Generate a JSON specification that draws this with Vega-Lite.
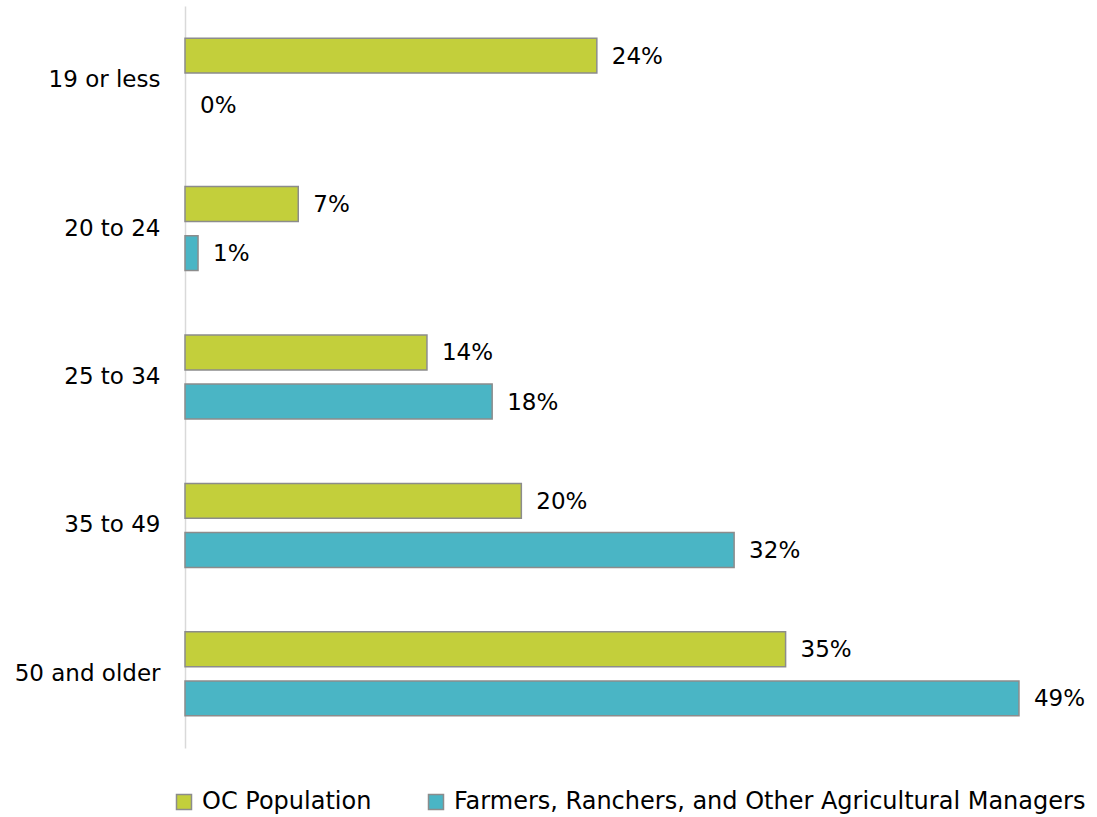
{
  "$schema": "https://vega.github.io/schema/vega-lite/v6.json",
  "autosize": "none",
  "width": 858,
  "height": 742,
  "padding": {"left": 185, "top": 6, "right": 54, "bottom": 69},
  "background": "white",
  "config": {
    "view": {"stroke": null},
    "font": "DejaVu Sans"
  },
  "data": {
    "values": [
      {"age": "19 or less", "series": "OC Population", "value": 0.240},
      {"age": "19 or less", "series": "Farmers, Ranchers, and Other Agricultural Managers", "value": 0.0},
      {"age": "20 to 24", "series": "OC Population", "value": 0.066},
      {"age": "20 to 24", "series": "Farmers, Ranchers, and Other Agricultural Managers", "value": 0.0076},
      {"age": "25 to 34", "series": "OC Population", "value": 0.141},
      {"age": "25 to 34", "series": "Farmers, Ranchers, and Other Agricultural Managers", "value": 0.179},
      {"age": "35 to 49", "series": "OC Population", "value": 0.196},
      {"age": "35 to 49", "series": "Farmers, Ranchers, and Other Agricultural Managers", "value": 0.320},
      {"age": "50 and older", "series": "OC Population", "value": 0.350},
      {"age": "50 and older", "series": "Farmers, Ranchers, and Other Agricultural Managers", "value": 0.486}
    ]
  },
  "encoding": {
    "y": {
      "field": "age",
      "type": "nominal",
      "sort": ["19 or less", "20 to 24", "25 to 34", "35 to 49", "50 and older"],
      "scale": {"paddingInner": 0.434, "paddingOuter": 0.217},
      "axis": {
        "title": null,
        "ticks": false,
        "domainColor": "#D9D9D9",
        "domainWidth": 1.5,
        "labelFontSize": 23,
        "labelColor": "#000000",
        "labelPadding": 25,
        "labelFont": "DejaVu Sans",
        "labelLimit": 300
      }
    },
    "yOffset": {
      "field": "series",
      "type": "nominal",
      "sort": ["OC Population", "Farmers, Ranchers, and Other Agricultural Managers"],
      "scale": {"paddingInner": 0.29, "paddingOuter": 0}
    },
    "x": {
      "field": "value",
      "type": "quantitative",
      "scale": {"domain": [0, 0.5], "nice": false, "zero": true},
      "axis": null
    }
  },
  "layer": [
    {
      "mark": {"type": "bar", "stroke": "#8C8C8C", "strokeWidth": 1.5},
      "encoding": {
        "strokeOpacity": {"condition": {"test": "datum.value == 0", "value": 0}, "value": 1},
        "color": {
          "field": "series",
          "type": "nominal",
          "sort": ["OC Population", "Farmers, Ranchers, and Other Agricultural Managers"],
          "scale": {
            "domain": ["OC Population", "Farmers, Ranchers, and Other Agricultural Managers"],
            "range": ["#C3CF3B", "#4AB5C5"]
          },
          "legend": {
            "title": null,
            "orient": "none",
            "direction": "horizontal",
            "legendX": -13,
            "legendY": 784,
            "symbolType": "square",
            "symbolSize": 225,
            "symbolStrokeColor": "#8C8C8C",
            "symbolStrokeWidth": 1.5,
            "symbolOpacity": 1,
            "labelFontSize": 24,
            "labelColor": "#000000",
            "labelFont": "DejaVu Sans",
            "labelOffset": 6,
            "labelLimit": 800,
            "columnPadding": 52
          }
        }
      }
    },
    {
      "mark": {"type": "text", "align": "left", "baseline": "middle", "dx": 15, "dy": 1, "fontSize": 23, "color": "#000000"},
      "encoding": {
        "text": {"field": "value", "type": "quantitative", "format": ".0%"}
      }
    }
  ]
}
